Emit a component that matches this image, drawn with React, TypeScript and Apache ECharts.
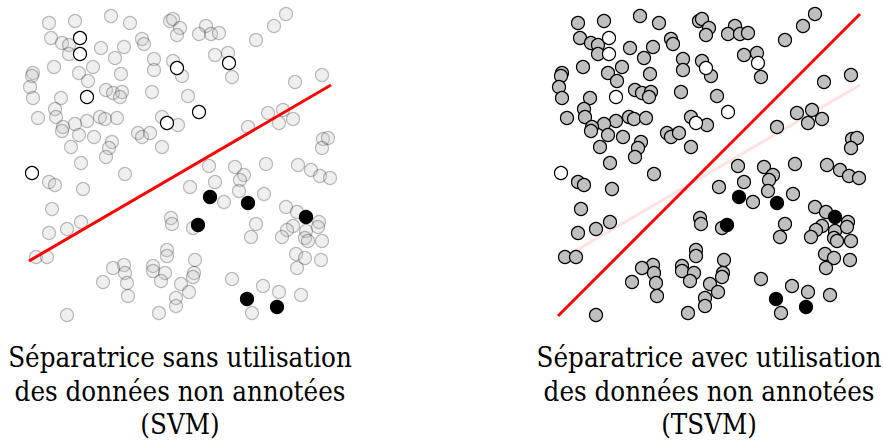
import React, { useEffect, useRef } from "react";
import * as echarts from "echarts";

// Unlabeled points (shared by both panels), in panel units: x 0..320, y 0..325
const unlabeled: [number, number][] = [
  [91, 309], [266, 311], [29, 302], [55, 304], [110, 302], [150, 304], [153, 306], [160, 297],
  [186, 299], [254, 299], [31, 287], [42, 282], [49, 280], [49, 271], [81, 277], [104, 278],
  [122, 286], [124, 281], [157, 290], [179, 291], [191, 291], [199, 292], [236, 285], [95, 267],
  [134, 266], [134, 255], [153, 264], [162, 249], [195, 270], [208, 272], [212, 248], [34, 258],
  [59, 252], [73, 258], [68, 244], [101, 251], [13, 252], [12, 249], [10, 238], [13, 227],
  [41, 227], [86, 235], [93, 232], [102, 233], [100, 228], [132, 233], [168, 229], [275, 243],
  [302, 250], [35, 216], [36, 208], [18, 207], [67, 204], [55, 201], [80, 208], [85, 206],
  [97, 207], [43, 198], [42, 194], [59, 190], [74, 188], [142, 208], [158, 200], [118, 192],
  [122, 188], [130, 192], [142, 178], [92, 183], [89, 177], [86, 168], [51, 178], [61, 162],
  [248, 212], [263, 215], [259, 202], [273, 206], [228, 198], [303, 186], [308, 187], [302, 177],
  [105, 151], [29, 143], [35, 140], [63, 136], [189, 159], [215, 158], [224, 150], [220, 145],
  [246, 161], [278, 160], [291, 155], [300, 149], [310, 147], [170, 138], [195, 143], [204, 123],
  [219, 134], [244, 131], [32, 116], [61, 103], [47, 96], [29, 92], [151, 107], [152, 101],
  [173, 97], [236, 101], [231, 88], [266, 118], [277, 113], [273, 99], [267, 95], [262, 88],
  [286, 94], [285, 87], [288, 84], [299, 103], [298, 98], [302, 84], [16, 68], [27, 68],
  [147, 75], [147, 69], [175, 65], [104, 60], [93, 57], [105, 52], [107, 42], [108, 29],
  [83, 43], [133, 59], [133, 54], [145, 52], [141, 44], [161, 41], [174, 52], [173, 48],
  [169, 33], [156, 27], [156, 19], [139, 12], [47, 10], [212, 46], [243, 39], [259, 33],
  [281, 30], [232, 12], [276, 71], [285, 67], [277, 57], [301, 65],
];

// Labeled points: class "white" (open circles) and class "black" (filled)
const classWhite: [number, number][] = [
  [60, 287], [60, 271], [157, 257], [209, 262], [67, 228], [179, 213], [147, 202], [12, 152],
];
const classBlack: [number, number][] = [
  [190, 128], [228, 122], [178, 100], [286, 108], [227, 26], [257, 18],
];

// Separating lines (endpoints in panel units)
const svmLine: [number, number][] = [[9, 64], [311, 240]];
const tsvmLine: [number, number][] = [[9, 9], [311, 311]];

const captionLeft = ["Séparatrice sans utilisation", "des données non annotées", "(SVM)"];
const captionRight = ["Séparatrice avec utilisation", "des données non annotées", "(TSVM)"];

const SYMBOL = 13;
const FONT_FAMILY = "DejaVu Serif";
const FONT_SIZE = 27;
const SCALE_X = 0.915;
const LINE_Y = [358, 392, 425];

export default function App() {
  const ref = useRef<HTMLDivElement>(null);
  useEffect(() => {
    if (!ref.current) return;
    const chart = echarts.init(ref.current, undefined, { renderer: "svg" });

    const axisCommon = { type: "value" as const, show: false };
    const grayScatter = (idx: number, faded: boolean) => ({
      type: "scatter",
      xAxisIndex: idx,
      yAxisIndex: idx,
      data: unlabeled,
      symbolSize: SYMBOL,
      z: 2,
      itemStyle: {
        color: "#bfbfbf",
        borderColor: "#000",
        borderWidth: 1.2,
        opacity: faded ? 0.25 : 1,
      },
      emphasis: { disabled: true },
    });
    const whiteScatter = (idx: number) => ({
      type: "scatter",
      xAxisIndex: idx,
      yAxisIndex: idx,
      data: classWhite,
      symbolSize: SYMBOL,
      z: 3,
      itemStyle: { color: "#fff", borderColor: "#000", borderWidth: 1.2, opacity: 1 },
      emphasis: { disabled: true },
    });
    const blackScatter = (idx: number) => ({
      type: "scatter",
      xAxisIndex: idx,
      yAxisIndex: idx,
      data: classBlack,
      symbolSize: SYMBOL,
      z: 3,
      itemStyle: { color: "#000", borderColor: "#000", borderWidth: 1.2, opacity: 1 },
      emphasis: { disabled: true },
    });
    const lineSeries = (idx: number, data: [number, number][], color: string, z: number) => ({
      type: "line",
      xAxisIndex: idx,
      yAxisIndex: idx,
      data,
      symbol: "none",
      z,
      lineStyle: { color, width: 3 },
      emphasis: { disabled: true },
    });

    const textEls: any[] = [];
    const addCaption = (lines: string[], cx: number) => {
      lines.forEach((t, i) => {
        textEls.push({
          type: "text",
          x: cx,
          y: LINE_Y[i],
          scaleX: SCALE_X,
          style: {
            text: t,
            fontFamily: FONT_FAMILY,
            fontSize: FONT_SIZE,
            fill: "#000",
            align: "center",
            verticalAlign: "middle",
          },
        });
      });
    };
    addCaption(captionLeft, 180);
    addCaption(captionRight, 709);

    chart.setOption({
      animation: false,
      grid: [
        { left: 20, top: 0, width: 320, height: 325 },
        { left: 549, top: 0, width: 320, height: 325 },
      ],
      xAxis: [
        { ...axisCommon, gridIndex: 0, min: 0, max: 320 },
        { ...axisCommon, gridIndex: 1, min: 0, max: 320 },
      ],
      yAxis: [
        { ...axisCommon, gridIndex: 0, min: 0, max: 325 },
        { ...axisCommon, gridIndex: 1, min: 0, max: 325 },
      ],
      series: [
        grayScatter(0, true),
        whiteScatter(0),
        blackScatter(0),
        lineSeries(0, svmLine, "#ff0000", 5),
        lineSeries(1, svmLine, "#ffe3e3", 1),
        grayScatter(1, false),
        whiteScatter(1),
        blackScatter(1),
        lineSeries(1, tsvmLine, "#ff0000", 5),
      ],
      graphic: textEls,
    });
    return () => chart.dispose();
  }, []);
  return (
    <div
      ref={ref}
      style={{ position: "absolute", left: 0, top: 0, width: 883, height: 441, background: "#fff" }}
    />
  );
}
